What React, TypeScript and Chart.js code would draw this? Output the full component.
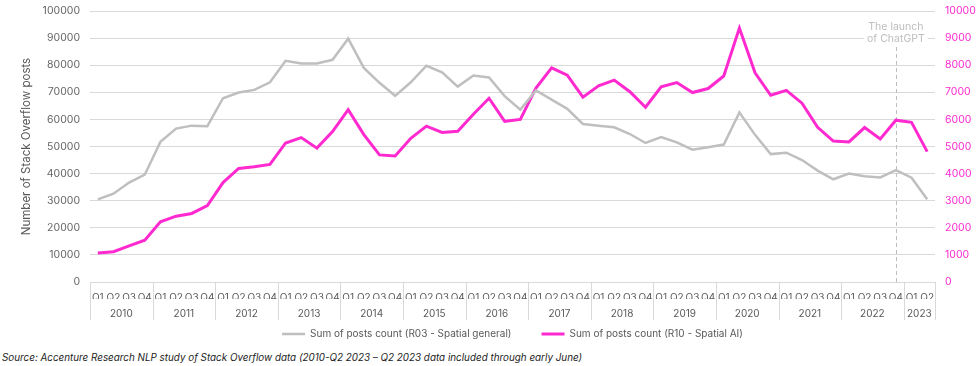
import React, { useEffect, useRef } from 'react';
import { Chart, registerables } from 'chart.js';

Chart.register(...registerables);

const years = ['2010', '2011', '2012', '2013', '2014', '2015', '2016', '2017', '2018', '2019', '2020', '2021', '2022', '2023'];
const quartersPerYear = [4, 4, 4, 4, 4, 4, 4, 4, 4, 4, 4, 4, 4, 2];
const quarterNames = ['Q1', 'Q2', 'Q3', 'Q4'];

const spatialGeneral = [
  30500, 32600, 36700, 39600,
  51700, 56600, 57700, 57500,
  67800, 69900, 70900, 73700,
  81600, 80600, 80600, 82000,
  89800, 79000, 73500, 68700,
  73700, 79800, 77400, 72100,
  76200, 75500, 68600, 63600,
  70700, 67300, 63900, 58300,
  57700, 57100, 54600, 51300,
  53500, 51500, 48800, 49700,
  50700, 62600, 54300, 47200,
  47700, 45000, 41100, 37900,
  40000, 39000, 38600, 41300,
  38500, 30500,
];

const spatialAI = [
  1070, 1120, 1330, 1540,
  2220, 2430, 2530, 2820,
  3670, 4190, 4250, 4340,
  5130, 5330, 4940, 5550,
  6360, 5440, 4690, 4650,
  5300, 5750, 5520, 5560,
  6190, 6780, 5930, 6000,
  7160, 7900, 7630, 6820,
  7240, 7450, 7020, 6450,
  7200, 7360, 6990, 7140,
  7600, 9370, 7720, 6890,
  7070, 6600, 5710, 5200,
  5170, 5700, 5280, 5970,
  5890, 4810,
];

const chatGptIndex = 51;
const annotationLines = ['The launch', 'of ChatGPT'];

const seriesNames = ['Sum of posts count (R03 - Spatial general)', 'Sum of posts count (R10 - Spatial AI)'];
const grayColor = '#bfbfbf';
const magentaColor = '#ff29d0';
const FONT = 'Inter, "Noto Sans", sans-serif';

const quarterLabels: string[] = [];
years.forEach((y, i) => {
  for (let q = 0; q < quartersPerYear[i]; q++) quarterLabels.push(quarterNames[q]);
});

const decorPlugin = {
  id: 'decor',
  beforeDatasetsDraw(chart: any) {
    const { ctx, chartArea, scales } = chart;
    const x = scales.x;
    const cx = x.getPixelForValue(chatGptIndex);
    ctx.save();
    ctx.font = '10.5px ' + FONT;
    const w = Math.max(...annotationLines.map((t) => ctx.measureText(t).width));
    ctx.fillStyle = '#ffffff';
    ctx.fillRect(cx - w / 2 - 3, chartArea.top + 8, w + 6, 26);
    ctx.fillStyle = '#bdbdbd';
    ctx.textAlign = 'center';
    ctx.textBaseline = 'middle';
    annotationLines.forEach((t, i) => ctx.fillText(t, cx, chartArea.top + 16 + i * 11.5));
    ctx.strokeStyle = '#bdbdbd';
    ctx.lineWidth = 1;
    ctx.setLineDash([4, 3]);
    ctx.beginPath();
    ctx.moveTo(Math.round(cx) + 0.5, chartArea.top + 36);
    ctx.lineTo(Math.round(cx) + 0.5, chartArea.bottom);
    ctx.stroke();
    ctx.restore();
  },
  afterDraw(chart: any) {
    const { ctx, chartArea, scales } = chart;
    const x = scales.x;
    const band = x.getPixelForValue(1) - x.getPixelForValue(0);
    ctx.save();
    ctx.strokeStyle = '#d9d9d9';
    ctx.lineWidth = 1;
    ctx.font = '10px ' + FONT;
    ctx.fillStyle = '#595959';
    ctx.textAlign = 'center';
    ctx.textBaseline = 'middle';
    let idx = 0;
    const top = chartArea.bottom;
    const bottom = chartArea.bottom + 38;
    years.forEach((y, i) => {
      const start = x.getPixelForValue(idx) - band / 2;
      const end = x.getPixelForValue(idx + quartersPerYear[i] - 1) + band / 2;
      ctx.beginPath();
      ctx.moveTo(Math.round(start) + 0.5, top);
      ctx.lineTo(Math.round(start) + 0.5, bottom);
      ctx.stroke();
      if (i === years.length - 1) {
        ctx.beginPath();
        ctx.moveTo(Math.round(end) + 0.5, top);
        ctx.lineTo(Math.round(end) + 0.5, bottom);
        ctx.stroke();
      }
      ctx.fillText(y, (start + end) / 2, chartArea.bottom + 32);
      idx += quartersPerYear[i];
    });
    ctx.restore();
  },
};

export default function App() {
  const ref = useRef<HTMLCanvasElement>(null);
  useEffect(() => {
    if (!ref.current) return;
    Chart.defaults.font.family = FONT;
    const chart = new Chart(ref.current, {
      type: 'line',
      data: {
        labels: quarterLabels,
        datasets: [
          {
            label: seriesNames[0],
            data: spatialGeneral,
            borderColor: grayColor,
            backgroundColor: grayColor,
            borderWidth: 2.5,
            pointRadius: 0,
            tension: 0,
            yAxisID: 'y',
          },
          {
            label: seriesNames[1],
            data: spatialAI,
            borderColor: magentaColor,
            backgroundColor: magentaColor,
            borderWidth: 3,
            pointRadius: 0,
            tension: 0,
            yAxisID: 'y1',
          },
        ],
      },
      options: {
        animation: false,
        responsive: false,
        maintainAspectRatio: false,
        layout: { padding: { top: 11, left: 0, right: 0, bottom: 0 } },
        plugins: {
          tooltip: { enabled: false },
          legend: {
            position: 'bottom',
            fullSize: false,
            labels: {
              usePointStyle: true,
              pointStyle: 'line',
              pointStyleWidth: 23,
              boxHeight: 10,
              padding: 30,
              color: '#595959',
              font: { size: 10, family: FONT },
            },
          },
        },
        scales: {
          x: {
            offset: true,
            grid: { display: false },
            border: { display: false },
            ticks: {
              autoSkip: false,
              maxRotation: 0,
              color: '#595959',
              font: { size: 10 },
              padding: 2,
            },
            afterFit: (s: any) => {
              s.height = 17;
            },
          },
          y: {
            position: 'left',
            min: 0,
            max: 100000,
            ticks: {
              stepSize: 10000,
              color: '#666666',
              font: { size: 10.5 },
              padding: 10,
              callback: (v: any) => String(v),
            },
            grid: { color: '#d9d9d9', drawTicks: false },
            border: { display: false },
            title: {
              display: true,
              text: 'Number of Stack Overflow posts',
              color: '#595959',
              font: { size: 11.5 },
              padding: { top: 20 },
            },
            afterFit: (s: any) => {
              s.width = 90;
              s.paddingTop = 0;
            },
          },
          y1: {
            position: 'right',
            min: 0,
            max: 10000,
            ticks: {
              stepSize: 1000,
              color: magentaColor,
              font: { size: 10.5 },
              padding: 10,
              callback: (v: any) => String(v),
            },
            grid: { drawOnChartArea: false, drawTicks: false },
            border: { display: false },
            afterFit: (s: any) => {
              s.width = 44;
              s.paddingTop = 0;
            },
          },
        },
      },
      plugins: [decorPlugin],
    });
    return () => chart.destroy();
  }, []);

  return (
    <div style={{ position: 'fixed', left: 0, top: 0, width: 979, height: 366, background: '#fff' }}>
      <canvas ref={ref} width={979} height={349} style={{ display: 'block', width: 979, height: 349 }} />
      <div
        style={{
          position: 'absolute',
          left: 2,
          top: 351,
          fontFamily: FONT,
          fontStyle: 'italic',
          fontSize: 9.85,
          color: '#222',
          whiteSpace: 'nowrap',
          lineHeight: '13px',
        }}
      >
        Source: Accenture Research NLP study of Stack Overflow data (2010-Q2 2023 – Q2 2023 data included through early June)
      </div>
    </div>
  );
}
